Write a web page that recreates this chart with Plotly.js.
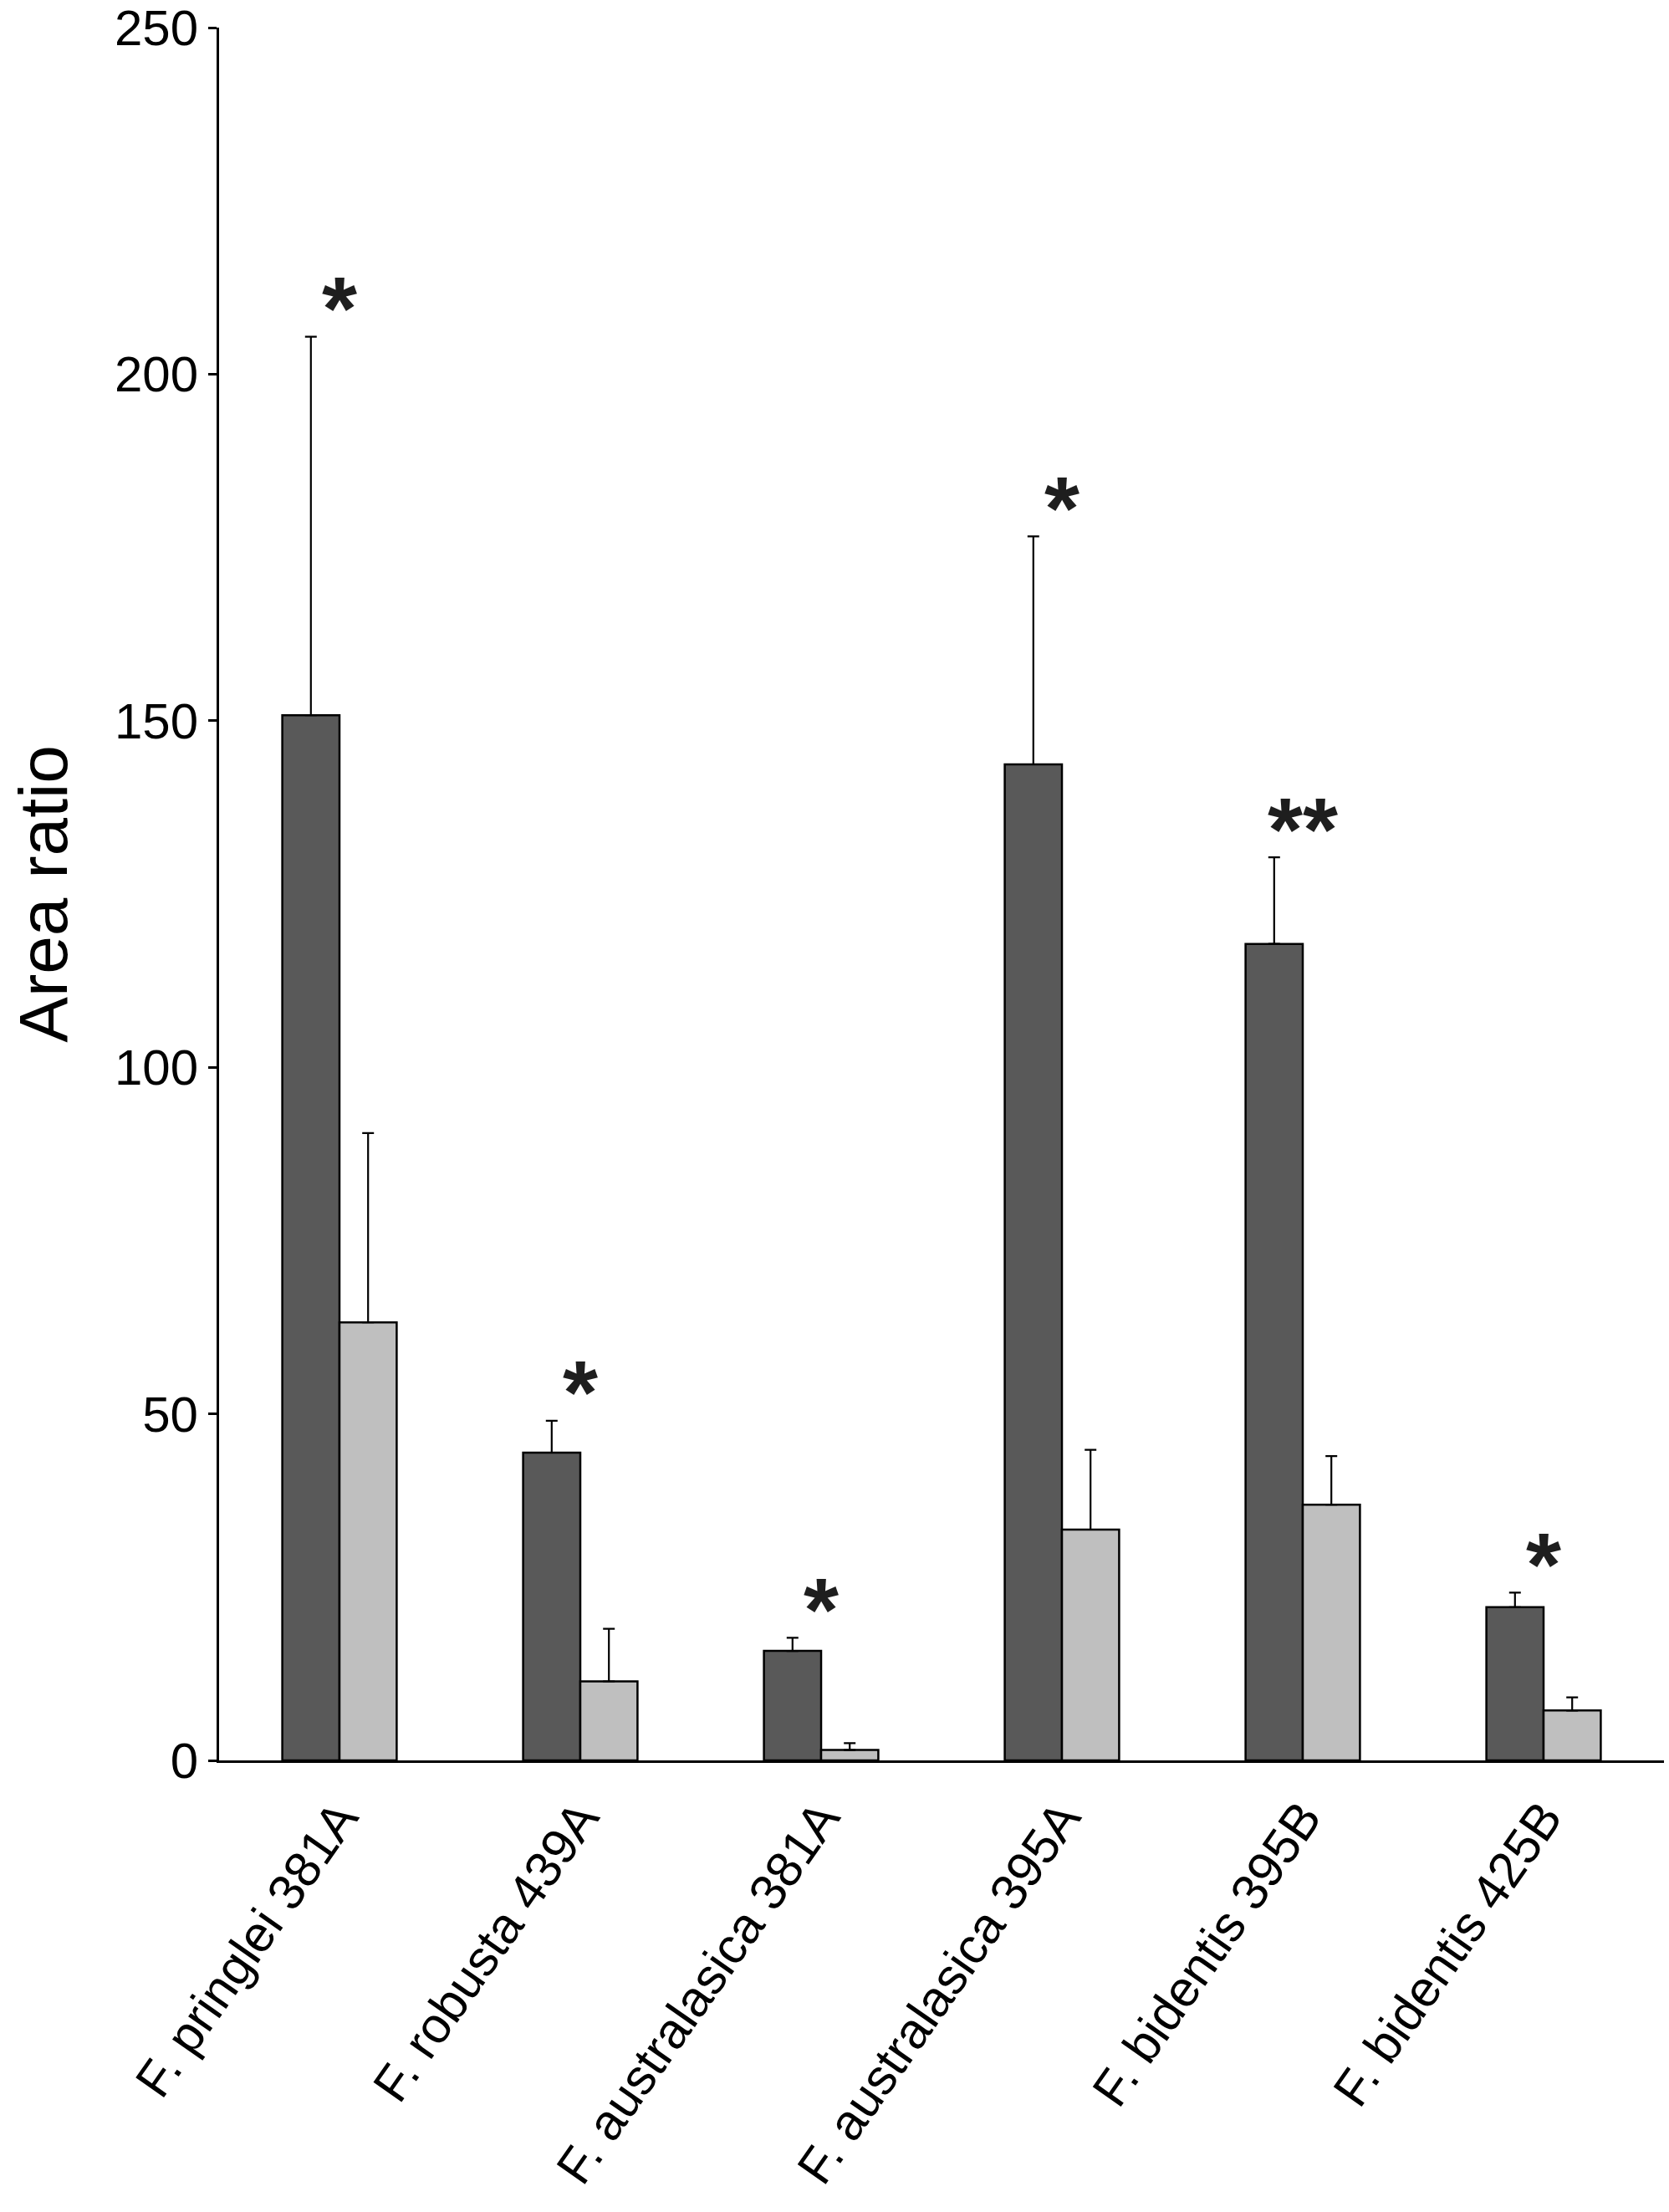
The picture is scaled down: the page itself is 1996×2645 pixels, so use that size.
<!DOCTYPE html>
<html>
<head>
<meta charset="utf-8">
<script src="https://cdn.plot.ly/plotly-3.0.1.min.js"></script>
<style>
  html, body { margin: 0; padding: 0; background: #ffffff; }
  #chart { width: 1996px; height: 2645px; }
</style>
</head>
<body>
<div id="chart"></div>
<script>
// ---- data ----
const categories = [
  "F. pringlei 381A",
  "F. robusta 439A",
  "F. australasica 381A",
  "F. australasica 395A",
  "F. bidentis 395B",
  "F. bidentis 425B"
];
const darkValues  = [150.8, 44.4, 15.8, 143.7, 117.8, 22.1];
const darkErrors  = [54.6, 4.6, 1.9, 32.9, 12.5, 2.1];
const lightValues = [63.2, 11.4, 1.5, 33.3, 36.9, 7.2];
const lightErrors = [27.3, 7.6, 1.0, 11.5, 7.0, 1.9];
const significance = ["*", "*", "*", "*", "**", "*"];
const yTickValues = [0, 50, 100, 150, 200, 250];

const FONT = "Liberation Sans, Arial, Helvetica, sans-serif";
const zeros = categories.map(() => 0);

const traceDark = {
  type: "bar",
  x: categories,
  y: darkValues,
  marker: { color: "#595959", line: { color: "#000000", width: 2.5 } },
  error_y: {
    type: "data", symmetric: false,
    array: darkErrors, arrayminus: zeros,
    color: "#000000", thickness: 2.2, width: 7
  },
  hoverinfo: "skip",
  showlegend: false
};
const traceLight = {
  type: "bar",
  x: categories,
  y: lightValues,
  marker: { color: "#bfbfbf", line: { color: "#000000", width: 2.5 } },
  error_y: {
    type: "data", symmetric: false,
    array: lightErrors, arrayminus: zeros,
    color: "#000000", thickness: 2.2, width: 7
  },
  hoverinfo: "skip",
  showlegend: false
};

const annotations = categories.map((c, i) => ({
  x: c,
  y: darkValues[i] + darkErrors[i],
  xref: "x", yref: "y",
  text: significance[i],
  showarrow: false,
  xanchor: "center",
  yanchor: "middle",
  yshift: 34,
  font: { family: FONT, size: 108, color: "#1e1e1e", weight: "bold" }
}));

const layout = {
  width: 1996,
  height: 2645,
  paper_bgcolor: "#ffffff",
  plot_bgcolor: "#ffffff",
  margin: { l: 262, r: 6, t: 33, b: 540, pad: 0 },
  barmode: "group",
  bargap: 0.525,
  bargroupgap: 0,
  font: { family: FONT, color: "#000000" },
  xaxis: {
    type: "category",
    categoryorder: "array",
    categoryarray: categories,
    range: [-0.5, 5.5],
    showline: true,
    linecolor: "#000000",
    linewidth: 3,
    ticks: "",
    showgrid: false,
    zeroline: false,
    tickangle: -55,
    tickfont: { family: FONT, size: 60, color: "#000000" },
    ticklabelstandoff: 6,
    fixedrange: true
  },
  yaxis: {
    range: [0, 250],
    tickvals: yTickValues,
    ticktext: yTickValues.map(String),
    showline: true,
    linecolor: "#000000",
    linewidth: 3,
    ticks: "outside",
    ticklen: 10,
    tickwidth: 3,
    tickcolor: "#000000",
    showgrid: false,
    zeroline: false,
    ticklabeloverflow: "allow",
    tickfont: { family: FONT, size: 60, color: "#000000" },
    title: {
      text: "Area ratio",
      font: { family: FONT, size: 82, color: "#000000" },
      standoff: 30
    },
    fixedrange: true
  },
  annotations: annotations
};

Plotly.newPlot("chart", [traceDark, traceLight], layout, { staticPlot: true, displayModeBar: false });
</script>
</body>
</html>
